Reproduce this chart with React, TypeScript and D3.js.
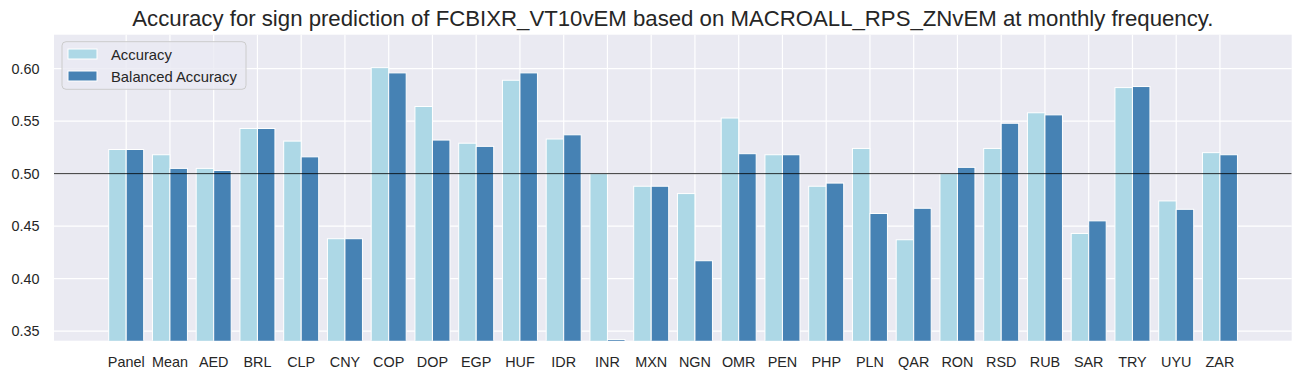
import React from "react";
import * as d3 from "d3";

const categories = ["Panel","Mean","AED","BRL","CLP","CNY","COP","DOP","EGP","HUF","IDR","INR","MXN","NGN","OMR","PEN","PHP","PLN","QAR","RON","RSD","RUB","SAR","TRY","UYU","ZAR"];
const accuracy = [0.523,0.518,0.505,0.543,0.531,0.438,0.601,0.564,0.529,0.589,0.533,0.500,0.488,0.481,0.553,0.518,0.488,0.524,0.437,0.500,0.524,0.558,0.443,0.582,0.474,0.520];
const balancedAccuracy = [0.523,0.505,0.503,0.543,0.516,0.438,0.596,0.532,0.526,0.596,0.537,0.342,0.488,0.417,0.519,0.518,0.491,0.462,0.467,0.506,0.548,0.556,0.455,0.583,0.466,0.518];
const yTicks = [0.35,0.40,0.45,0.50,0.55,0.60];
const seriesNames = ["Accuracy","Balanced Accuracy"];
const colors = ["#ADD8E6","#4682B4"];
const title = "Accuracy for sign prediction of FCBIXR_VT10vEM based on MACROALL_RPS_ZNvEM at monthly frequency.";

const W = 1303, H = 379;
const L = 54, R = 1291.7, T = 34.7, B = 340.7;
const FONT = "'Liberation Sans', Arial, sans-serif";

export default function App() {
  const x = d3.scaleLinear().domain([-1.65, categories.length - 1 + 1.64]).range([L, R]);
  const y = d3.scaleLinear().domain([0.3408, 0.6324]).range([B, T]);
  const bw = x(0.4) - x(0);
  const series = [accuracy, balancedAccuracy];
  return (
    <svg width={W} height={H} style={{ position: "absolute", left: 0, top: 0 }} fontFamily={FONT}>
      <defs>
        <clipPath id="plot"><rect x={L} y={T} width={R - L} height={B - T} /></clipPath>
      </defs>
      <rect x={0} y={0} width={W} height={H} fill="#fff" />
      <rect x={L} y={T} width={R - L} height={B - T} fill="#EAEAF2" />
      <g stroke="#fff" strokeWidth={1.2}>
        {yTicks.map(t => <line key={"h"+t} x1={L} x2={R} y1={y(t)} y2={y(t)} />)}
        {categories.map((c, i) => <line key={"v"+c} x1={x(i)} x2={x(i)} y1={T} y2={B} />)}
      </g>
      <g clipPath="url(#plot)">
        {series.map((s, si) => s.map((v, i) => (
          <rect key={si + "-" + i} x={x(i) + (si === 0 ? -bw : 0)} y={y(v)} width={bw} height={B + 5 - y(v)}
            fill={colors[si]} stroke="#fff" strokeWidth={1} />
        )))}
        <line x1={L} x2={R} y1={y(0.5)} y2={y(0.5)} stroke="#000" strokeWidth={0.8} />
      </g>
      <g fontSize={14.4} fill="#262626">
        {yTicks.map(t => <text key={"yt"+t} x={39.5} y={y(t)} dy="0.35em" textAnchor="end">{t.toFixed(2)}</text>)}
        {categories.map((c, i) => <text key={"xt"+c} x={x(i)} y={366.5} textAnchor="middle">{c}</text>)}
      </g>
      <text x={(L + R) / 2} y={26} textAnchor="middle" fontSize={22.2} fill="#262626">{title}</text>
      <g>
        <rect x={62} y={41.7} width={184} height={47.6} rx={4} fill="#EAEAF2" fillOpacity={0.8} stroke="#cccccc" strokeWidth={1} />
        {seriesNames.map((n, i) => (
          <g key={n}>
            <rect x={68} y={49 + i * 22} width={29} height={10} fill={colors[i]} stroke="#fff" strokeWidth={1} />
            <text x={111} y={59.5 + i * 22} fontSize={14.8} fill="#262626">{n}</text>
          </g>
        ))}
      </g>
    </svg>
  );
}
